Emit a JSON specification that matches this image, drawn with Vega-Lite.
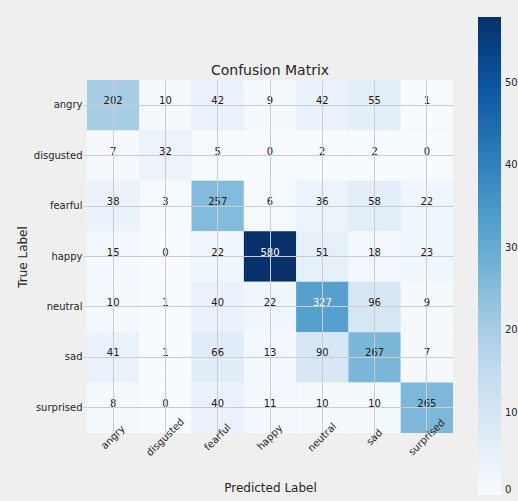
{
  "$schema": "https://vega.github.io/schema/vega-lite/v6.json",
  "autosize": {"type": "none"},
  "width": 366,
  "height": 353,
  "padding": {"left": 87, "top": 80, "right": 65, "bottom": 68},
  "background": "#efefef",
  "title": {"text": "Confusion Matrix", "fontSize": 14, "font": "DejaVu Sans", "fontWeight": "normal", "color": "#262626", "offset": 5, "anchor": "middle", "dy": 66},
  "config": {"view": {"stroke": null}, "font": "DejaVu Sans"},
  "data": {"values": [
    {"t":"angry","p":"angry","v":202},{"t":"angry","p":"disgusted","v":10},{"t":"angry","p":"fearful","v":42},{"t":"angry","p":"happy","v":9},{"t":"angry","p":"neutral","v":42},{"t":"angry","p":"sad","v":55},{"t":"angry","p":"surprised","v":1},
    {"t":"disgusted","p":"angry","v":7},{"t":"disgusted","p":"disgusted","v":32},{"t":"disgusted","p":"fearful","v":5},{"t":"disgusted","p":"happy","v":0},{"t":"disgusted","p":"neutral","v":2},{"t":"disgusted","p":"sad","v":2},{"t":"disgusted","p":"surprised","v":0},
    {"t":"fearful","p":"angry","v":38},{"t":"fearful","p":"disgusted","v":3},{"t":"fearful","p":"fearful","v":257},{"t":"fearful","p":"happy","v":6},{"t":"fearful","p":"neutral","v":36},{"t":"fearful","p":"sad","v":58},{"t":"fearful","p":"surprised","v":22},
    {"t":"happy","p":"angry","v":15},{"t":"happy","p":"disgusted","v":0},{"t":"happy","p":"fearful","v":22},{"t":"happy","p":"happy","v":580},{"t":"happy","p":"neutral","v":51},{"t":"happy","p":"sad","v":18},{"t":"happy","p":"surprised","v":23},
    {"t":"neutral","p":"angry","v":10},{"t":"neutral","p":"disgusted","v":1},{"t":"neutral","p":"fearful","v":40},{"t":"neutral","p":"happy","v":22},{"t":"neutral","p":"neutral","v":327},{"t":"neutral","p":"sad","v":96},{"t":"neutral","p":"surprised","v":9},
    {"t":"sad","p":"angry","v":41},{"t":"sad","p":"disgusted","v":1},{"t":"sad","p":"fearful","v":66},{"t":"sad","p":"happy","v":13},{"t":"sad","p":"neutral","v":90},{"t":"sad","p":"sad","v":267},{"t":"sad","p":"surprised","v":7},
    {"t":"surprised","p":"angry","v":8},{"t":"surprised","p":"disgusted","v":0},{"t":"surprised","p":"fearful","v":40},{"t":"surprised","p":"happy","v":11},{"t":"surprised","p":"neutral","v":10},{"t":"surprised","p":"sad","v":10},{"t":"surprised","p":"surprised","v":265}
  ]},
  "encoding": {
    "x": {"field": "p", "type": "nominal", "sort": null,
      "scale": {"paddingInner": 0, "paddingOuter": 0},
      "axis": {"title": "Predicted Label", "zindex": 1, "bandPosition": 0.5, "grid": true, "gridColor": "#cccccc", "gridWidth": 1,
        "domain": false, "ticks": true, "tickSize": 4, "tickColor": "#cccccc", "labelPadding": 0,
        "labelAngle": -45, "labelAlign": "center", "labelBaseline": "middle", "labelFontSize": 10, "labelColor": "#262626",
        "titleFontSize": 12, "titleFontWeight": "normal", "titleColor": "#262626", "titleY": 54, "titleBaseline": "middle",
        "encode": {"labels": {"update": {"dy": {"signal": "2.8 + 1.5*length(datum.label)"}, "dx": {"signal": "-(2.8 + 1.5*length(datum.label))"}}}}}},
    "y": {"field": "t", "type": "nominal", "sort": null,
      "scale": {"paddingInner": 0, "paddingOuter": 0},
      "axis": {"title": "True Label", "zindex": 1, "bandPosition": 0.5, "grid": true, "gridColor": "#cccccc", "gridWidth": 1,
        "domain": false, "ticks": true, "tickSize": 4, "tickColor": "#cccccc", "labelPadding": 1,
        "labelFontSize": 10, "labelColor": "#262626",
        "titleFontSize": 12, "titleFontWeight": "normal", "titleColor": "#262626", "titleX": -65, "titleBaseline": "middle"}}
  },
  "layer": [
    {"mark": {"type": "rect"},
     "encoding": {"color": {"field": "v", "type": "quantitative",
        "scale": {"type": "linear", "domain": [0, 72.5, 145, 217.5, 290, 362.5, 435, 507.5, 580],
          "range": ["#f7fbff", "#deebf7", "#c6dbef", "#9ecae1", "#6baed6", "#4292c6", "#2171b5", "#08519c", "#08306b"],
          "interpolate": "rgb", "nice": false},
        "legend": {"orient": "none", "legendX": 391, "legendY": -63, "direction": "vertical", "title": null,
          "gradientLength": 478, "gradientThickness": 23, "gradientStrokeWidth": 0,
          "values": [0, 100, 200, 300, 400, 500], "labelOffset": 4, "labelFontSize": 10, "labelColor": "#262626", "labelBaseline": "middle", "labelOverlap": false}}}},
    {"mark": {"type": "text", "fontSize": 10, "baseline": "alphabetic", "dy": -1},
     "encoding": {"text": {"field": "v", "type": "quantitative"},
       "color": {"condition": {"test": "datum.v > 290", "value": "#ffffff"}, "value": "#1a1a1a"}}}
  ]
}
